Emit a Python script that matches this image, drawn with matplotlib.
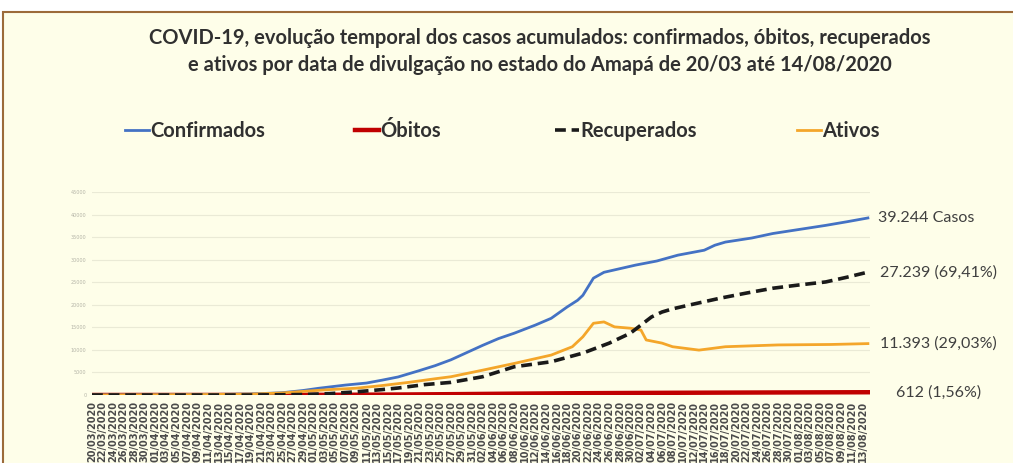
import matplotlib
matplotlib.use("Agg")
import matplotlib.pyplot as plt
import pandas as pd
from matplotlib.patches import Rectangle

# eixo x: datas de divulgação (20/03 a 14/08/2020)
datas = pd.date_range("2020-03-20", "2020-08-14", freq="D")
rotulos_x = [d.strftime("%d/%m/%Y") for d in datas]

# valores (dia desde 20/03, casos acumulados)
conf_dia = [0, 10, 20, 25, 30, 36, 40, 43, 48, 52, 55, 58, 62, 65, 68, 71, 74, 77, 80, 84, 87,
            90, 92, 93, 95, 97, 100, 103, 107, 111, 116, 118, 120, 125, 129, 134, 139, 143, 147]
confirmados = [1, 15, 90, 150, 220, 500, 1000, 1500, 2200, 2650, 3300, 4000, 5400, 6500, 7800,
               9400, 11000, 12500, 13700, 15500, 17000, 19500, 21000, 22100, 25900, 27200, 28000,
               28800, 29700, 31000, 32100, 33200, 33900, 34800, 35800, 36700, 37600, 38400, 39244]

obit_dia = [0, 20, 30, 40, 50, 60, 70, 80, 90, 100, 110, 120, 130, 140, 147]
obitos = [0, 2, 8, 25, 60, 120, 200, 300, 380, 440, 490, 530, 565, 595, 612]

rec_dia = [0, 30, 40, 45, 50, 55, 58, 63, 68, 74, 77, 80, 87, 93, 98, 102, 104, 106, 108, 110,
           113, 119, 124, 129, 134, 139, 143, 147]
recuperados = [0, 0, 100, 300, 700, 1200, 1550, 2300, 2800, 4050, 5150, 6260, 7370, 9290, 11500,
               13700, 15500, 17300, 18400, 19100, 19900, 21460, 22600, 23670, 24400, 25060, 26100,
               27239]

ativ_dia = [0, 20, 30, 36, 40, 45, 50, 55, 60, 65, 68, 74, 80, 87, 91, 93, 95, 97, 99, 102, 104,
            105, 108, 110, 115, 120, 125, 130, 140, 147]
ativos = [1, 90, 190, 450, 800, 1200, 1500, 2100, 2800, 3600, 4050, 5500, 7000, 8850, 10700,
          12900, 15900, 16200, 15100, 14800, 14400, 12200, 11500, 10700, 9950, 10700, 10900,
          11100, 11200, 11393]

rotulos_fim = ["39.244 Casos", "612 (1,56%)", "27.239 (69,41%)", "11.393 (29,03%)"]

FUNDO = "#FEFEE9"
W, H = 1013, 463
fig = plt.figure(figsize=(W / 100, H / 100), dpi=100, facecolor="white")
fig.patches.append(Rectangle((3 / W, -0.05), 1.1, 1 - 12 / H + 0.05, transform=fig.transFigure,
                             facecolor=FUNDO, edgecolor="#9C6B3A", lw=1.5, zorder=-1))

ax = fig.add_axes([92 / W, 1 - 395 / H, 778 / W, 203 / H])
ax.patch.set_alpha(0)

l1, = ax.plot(conf_dia, confirmados, color="#4472C4", lw=2, label="Confirmados", zorder=4)
l2, = ax.plot(obit_dia, obitos, color="#C00000", lw=3.2, label="Óbitos", zorder=3)
l3, = ax.plot(rec_dia, recuperados, color="#1A1A1A", lw=2.6, ls=(0, (3, 1.6)), label="Recuperados", zorder=5)
l4, = ax.plot(ativ_dia, ativos, color="#F4A62A", lw=2, label="Ativos", zorder=4)

ax.set_xlim(0, 147.4)
ax.set_ylim(0, 45000)
ax.set_yticks(range(0, 45001, 5000))
ax.set_yticklabels([str(v) for v in range(0, 45001, 5000)], fontsize=3.5, color="#B5B5A8")
ax.set_xticks(range(0, len(rotulos_x), 2))
ax.set_xticklabels(rotulos_x[::2], rotation=90, fontsize=7, color="#4A4A4A",
                   family="Liberation Sans Narrow", fontweight="bold")
ax.tick_params(length=0, pad=4)
ax.grid(axis="y", color="#EAEAD6", lw=0.8)
ax.set_axisbelow(True)
for s in ax.spines.values():
    s.set_visible(False)

# rótulos no fim das curvas
finais = [(confirmados[-1], 10), (obitos[-1], 28), (recuperados[-1], 12), (ativos[-1], 12)]
for txt, (v, dx) in zip(rotulos_fim, finais):
    ax.annotate(txt, xy=(147, v), xytext=(dx, 0), textcoords="offset pixels", va="center",
                ha="left", fontsize=11.5, color="#404040", family="Lato", annotation_clip=False)

fig.text(540 / W, 1 - 38 / H, "COVID-19, evolução temporal dos casos acumulados: confirmados, óbitos, recuperados",
         ha="center", va="center", fontsize=14.5, fontweight="bold", color="#303030", family="Lato")
fig.text(540 / W, 1 - 65 / H, "e ativos por data de divulgação no estado do Amapá de 20/03 até 14/08/2020",
         ha="center", va="center", fontsize=14.5, fontweight="bold", color="#303030", family="Lato")

# legenda: uma entrada por vez, como no original
for linha, x0 in zip([l1, l2, l3, l4], [125, 355, 555, 797]):
    leg = fig.legend(handles=[linha], loc="center left", bbox_to_anchor=(x0 / W, 1 - 131 / H),
                     frameon=False, handlelength=1.2, handletextpad=0.05, borderpad=0,
                     borderaxespad=0, prop={"family": "Lato", "weight": "bold", "size": 14.5},
                     labelcolor="#303030")

fig.savefig("out.png", dpi=100, facecolor="white")
